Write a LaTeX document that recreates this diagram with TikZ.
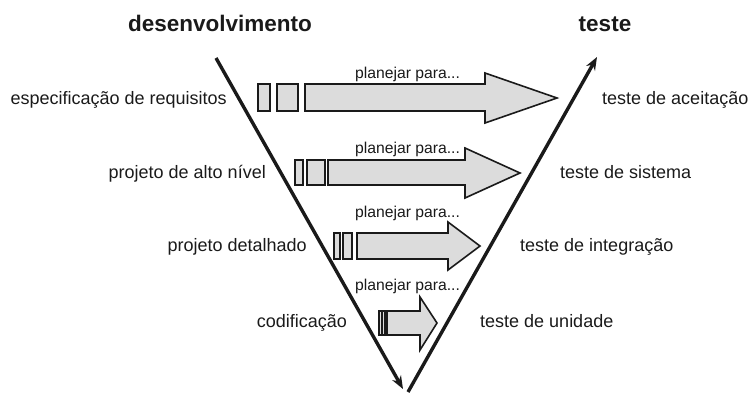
\documentclass[tikz,border=0pt]{standalone}
\usepackage{fontspec}
\setmainfont{Liberation Sans}
\usetikzlibrary{arrows.meta}
\definecolor{blockfill}{HTML}{DCDCDC}
\definecolor{ink}{HTML}{1A1A1A}
\tikzset{
  vline/.style={line width=3.4pt, draw=ink, -{Stealth[length=13pt,width=10pt]}},
  blockarrow/.style={draw=ink, line width=1.6pt, fill=blockfill, line join=miter},
  smallrect/.style={draw=ink, line width=1.3pt, fill=blockfill},
  lbl/.style={inner sep=0pt, text=ink, font=\fontsize{18}{20}\selectfont},
  plan/.style={inner sep=0pt, anchor=base west, text=ink, font=\fontsize{15.7}{18}\selectfont},
  title/.style={inner sep=0pt, anchor=base, text=ink, font=\fontsize{22.5}{26}\selectfont\bfseries},
}
\begin{document}
\begin{tikzpicture}[x=1pt,y=-1pt]
\useasboundingbox (0,0) rectangle (749,392);
% titles
\node[title] (dev) at (220,31) {desenvolvimento};
\node[title] (tst) at (605,31) {teste};
% V lines
\coordinate (ltop) at (216,58);
\coordinate (lbot) at (403,389);
\coordinate (rbot) at (408,392);
\coordinate (rtop) at (597,57);
\draw[vline] (ltop) -- (lbot);
\draw[vline] (rbot) -- (rtop);
% row 1
\draw[smallrect] (258,84) rectangle (270,111);
\draw[smallrect] (277,84) rectangle (298,111);
\draw[blockarrow] (305,84) -- (485,84) -- (485,73) -- (557,98) -- (485,123) -- (485,111) -- (305,111) -- cycle;
\node[plan] (p1) at (355,78) {planejar para...};
% row 2
\draw[smallrect] (295,160) rectangle (303,185);
\draw[smallrect] (307,160) rectangle (325,185);
\draw[blockarrow] (328,160) -- (465,160) -- (465,148) -- (520,173) -- (465,198) -- (465,185) -- (328,185) -- cycle;
\node[plan] (p2) at (355,153) {planejar para...};
% row 3
\draw[smallrect] (334,233) rectangle (340,259);
\draw[smallrect] (343,233) rectangle (352,259);
\draw[blockarrow] (357,233) -- (448,233) -- (448,222) -- (480,246) -- (448,270) -- (448,259) -- (357,259) -- cycle;
\node[plan] (p3) at (355,217) {planejar para...};
% row 4
\draw[smallrect] (379,311) rectangle (382,335);
\draw[smallrect] (382,311) rectangle (385,335);
\draw[blockarrow] (387,311) -- (420,311) -- (420,297) -- (437,323) -- (420,350) -- (420,335) -- (387,335) -- cycle;
\node[plan] (p4) at (355,290) {planejar para...};
% labels left
\node[lbl, anchor=base east] (l1) at (227,104) {especificação de requisitos};
\node[lbl, anchor=base east] (l2) at (266,178) {projeto de alto nível};
\node[lbl, anchor=base east] (l3) at (307,251) {projeto detalhado};
\node[lbl, anchor=base east] (l4) at (347,327) {codificação};
% labels right
\node[lbl, anchor=base west] (r1) at (602,104) {teste de aceitação};
\node[lbl, anchor=base west] (r2) at (560,178) {teste de sistema};
\node[lbl, anchor=base west] (r3) at (520,251) {teste de integração};
\node[lbl, anchor=base west] (r4) at (480,327) {teste de unidade};
\end{tikzpicture}
\end{document}
